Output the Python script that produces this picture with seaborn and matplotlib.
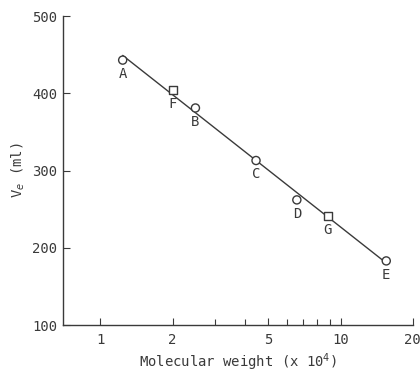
import numpy as np
import pandas as pd
import matplotlib
matplotlib.use('Agg')
import matplotlib.pyplot as plt
import matplotlib.ticker as mticker
import seaborn as sns

# data
labels = ['A', 'B', 'C', 'D', 'E', 'F', 'G']
mol_weight = [1.24, 2.49, 4.45, 6.58, 15.5, 2.0, 8.85]   # x 10^4
elution_vol = [443, 381, 313, 262, 183, 404, 241]         # ml
kind = ['circle', 'circle', 'circle', 'circle', 'circle', 'square', 'square']

x_major = [1, 2, 5, 10, 20]
x_minor = [3, 4, 6, 7, 8, 9]
y_ticks = [100, 200, 300, 400, 500]

df = pd.DataFrame({'label': labels, 'mw': mol_weight, 've': elution_vol, 'kind': kind})

# straight line in log(M)
coef = np.polyfit(np.log10(df['mw']), df['ve'], 1)
fit_x = np.array([df['mw'].min(), df['mw'].max()])
fit = pd.DataFrame({'mw': fit_x, 've': np.polyval(coef, np.log10(fit_x))})

sns.set_style('ticks')
ink = '#3a3a3a'
plt.rcParams['font.family'] = ['DejaVu Sans Mono', 'DejaVu Sans']
plt.rcParams['text.color'] = ink
plt.rcParams['axes.labelcolor'] = ink
plt.rcParams['xtick.color'] = ink
plt.rcParams['ytick.color'] = ink

fig = plt.figure(figsize=(4.2, 3.74), dpi=100)
ax = fig.add_axes([0.15, 0.131, 0.833, 0.826])

sns.lineplot(data=fit, x='mw', y='ve', color=ink, lw=1.0, ax=ax)
sns.scatterplot(data=df, x='mw', y='ve', style='kind',
                markers={'circle': 'o', 'square': 's'},
                s=34, facecolor='white', edgecolor=ink, linewidth=1.0,
                legend=False, zorder=3, ax=ax)

for _, r in df.iterrows():
    ax.annotate(r['label'], (r['mw'], r['ve']), xytext=(0, -5),
                textcoords='offset points', ha='center', va='top',
                fontsize=10, color=ink)

ax.set_xscale('log')
ax.set_xlim(0.7, 20)
ax.set_ylim(100, 500)
ax.xaxis.set_major_locator(mticker.FixedLocator(x_major))
ax.xaxis.set_major_formatter(mticker.FixedFormatter([str(v) for v in x_major]))
ax.xaxis.set_minor_locator(mticker.FixedLocator(x_minor))
ax.xaxis.set_minor_formatter(mticker.NullFormatter())
ax.set_yticks(y_ticks)

ax.tick_params(axis='both', which='major', direction='in', length=5, width=0.8,
               labelsize=10, pad=4)
ax.tick_params(axis='x', which='major', pad=6)
ax.tick_params(axis='x', which='minor', direction='in', length=4, width=0.8)

ax.set_xlabel('Molecular weight (x 10$^4$)', fontsize=10, labelpad=3)
ax.set_ylabel('V$_e$ (ml)', fontsize=10, labelpad=4)

sns.despine(ax=ax)
for sp in ['left', 'bottom']:
    ax.spines[sp].set_color(ink)
    ax.spines[sp].set_linewidth(1.0)

fig.savefig('out.png', dpi=100)
